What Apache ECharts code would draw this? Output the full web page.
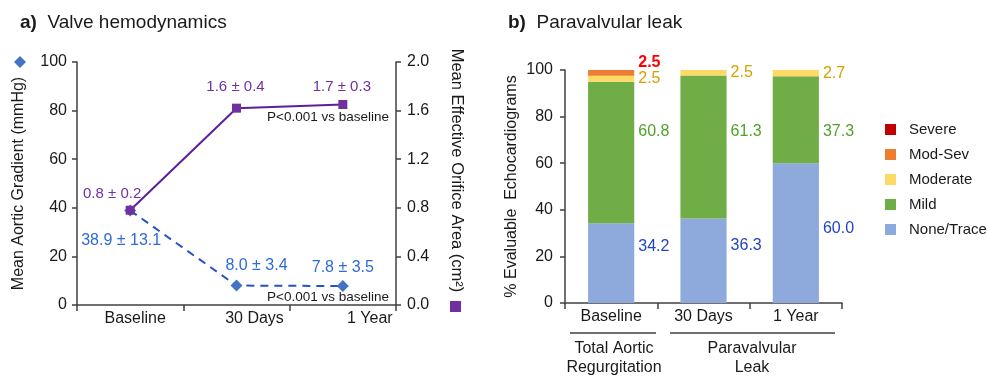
<!DOCTYPE html>
<html>
<head>
<meta charset="utf-8">
<script src="https://cdn.jsdelivr.net/npm/echarts@6/dist/echarts.min.js"></script>
<style>
html,body{margin:0;padding:0;background:#fff;}
#c{width:987px;height:379px;}
</style>
</head>
<body>
<div id="c"></div>
<script>
// ---------- DATA ----------
const categoriesA = ['Baseline', '30 Days', '1 Year'];
const gradientMean = [38.9, 8.0, 7.8];
const gradientSD = [13.1, 3.4, 3.5];
const eoaPlotted = [0.78, 1.62, 1.65];
const eoaMean = [0.8, 1.6, 1.7];
const eoaSD = [0.2, 0.4, 0.3];
const pValueText = 'P<0.001 vs baseline';

const categoriesB = ['Baseline', '30 Days', '1 Year'];
const groupLabels = ['Total Aortic\nRegurgitation', 'Paravalvular\nLeak'];
const leakNames = ['None/Trace', 'Mild', 'Moderate', 'Mod-Sev', 'Severe'];
const noneTrace = [34.2, 36.3, 60.0];
const mild = [60.8, 61.3, 37.3];
const moderate = [2.5, 2.5, 2.7];
const modSev = [2.5, 0, 0];
const severe = [0, 0, 0];

// ---------- STYLE / LAYOUT ----------
const FONT = '"Liberation Sans", Arial, sans-serif';
const AX = '#404040';
const TXT = '#1a1a1a';
const purple = '#7030A0', purpleLine = '#5B1F9E';
const blueMark = '#4472C4', blueLine = '#2452C8', blueTxt = '#2F6BD8';
const leakColors = ['#8EA9DB', '#70AD47', '#FFD966', '#ED7D31', '#C00000'];
const leakLabelColors = ['#2244C8', '#50A22C', '#D6A000', '#FF0000', '#FF0000'];
const leakLabelDy = [[-17, -15, -5], [-21, -15, 12], [0, 0, 0], [-10, 0, 0], [0, 0, 0]];
const eoaLabelOffset = [[-18, -16], [-1, -21], [-1, -18]];
const gradLabelOffset = [[-9, 30], [20, -20], [0, -18]];
const xLabelShift = [10, 36, 54];

const gA = {left: 77, top: 62, width: 319, height: 243};
const gB = {left: 565, top: 70, width: 277, height: 233};

const leakSeriesValues = [noneTrace, mild, moderate, modSev, severe];

function axisCommon() {
  return {
    axisLine: {show: true, lineStyle: {color: AX, width: 1.5}},
    axisTick: {show: true, length: 5, lineStyle: {color: AX, width: 1.5}},
    splitLine: {show: false},
    axisLabel: {color: TXT, fontSize: 16, fontFamily: FONT}
  };
}

const richX = {};
xLabelShift.forEach((p, i) => { richX['c' + i] = {padding: [0, 0, 0, p], fontSize: 16, color: TXT, fontFamily: FONT}; });

const option = {
  animation: false,
  backgroundColor: '#fff',
  textStyle: {fontFamily: FONT},
  title: [
    {text: '{b|a)}  Valve hemodynamics', left: 15, top: 8,
     textStyle: {fontSize: 19, fontWeight: 'normal', color: TXT, fontFamily: FONT,
       rich: {b: {fontSize: 19, fontWeight: 'bold', color: TXT, fontFamily: FONT}}}},
    {text: '{b|b)}  Paravalvular leak', left: 503, top: 8,
     textStyle: {fontSize: 19, fontWeight: 'normal', color: TXT, fontFamily: FONT,
       rich: {b: {fontSize: 19, fontWeight: 'bold', color: TXT, fontFamily: FONT}}}}
  ],
  legend: [
    {data: [{name: 'Gradient', icon: 'diamond'}], left: 14, top: 56, padding: 0,
     itemWidth: 12, itemHeight: 12, formatter: () => '', selectedMode: false},
    {data: [{name: 'EOA', icon: 'rect'}], left: 450, top: 301, padding: 0,
     itemWidth: 11, itemHeight: 11, formatter: () => '', selectedMode: false},
    {data: leakNames.slice().reverse().map(n => ({name: n, icon: 'rect'})),
     orient: 'vertical', left: 885, top: 122, padding: 0, itemWidth: 11, itemHeight: 11, itemGap: 10,
     selectedMode: false,
     textStyle: {fontSize: 15, color: TXT, fontFamily: FONT, padding: [0, 0, 0, 8]}}
  ],
  grid: [
    Object.assign({}, gA),
    Object.assign({}, gB)
  ],
  xAxis: [
    Object.assign(axisCommon(), {
      type: 'category', gridIndex: 0, data: categoriesA,
      axisTick: {show: true, length: 6, lineStyle: {color: AX, width: 1.5}},
      axisLabel: {margin: 6, interval: 0,
        formatter: (v, i) => '{c' + i + '|' + v + '}', rich: richX, color: TXT, fontSize: 16, fontFamily: FONT}
    }),
    Object.assign(axisCommon(), {
      type: 'category', gridIndex: 1, data: categoriesB,
      axisTick: {show: true, length: 6, lineStyle: {color: AX, width: 1.5}},
      axisLabel: {margin: 6, interval: 0, color: TXT, fontSize: 16, fontFamily: FONT}
    })
  ],
  yAxis: [
    Object.assign(axisCommon(), {
      type: 'value', gridIndex: 0, min: 0, max: 100, interval: 20, position: 'left',
      name: 'Mean Aortic Gradient (mmHg)', nameLocation: 'middle', nameGap: 50, nameRotate: 90,
      nameTextStyle: {fontSize: 16, color: TXT, fontFamily: FONT},
      axisLabel: {margin: 10, color: TXT, fontSize: 16, fontFamily: FONT}
    }),
    Object.assign(axisCommon(), {
      type: 'value', gridIndex: 0, min: 0, max: 2, interval: 0.4, position: 'right',
      name: 'Mean Effective Orifice Area (cm²)', nameLocation: 'middle', nameGap: 52, nameRotate: -90,
      nameTextStyle: {fontSize: 16.5, color: TXT, fontFamily: FONT, padding: [0, 26, 0, 0]},
      axisLabel: {margin: 11, color: TXT, fontSize: 16, fontFamily: FONT, formatter: v => v.toFixed(1)}
    }),
    Object.assign(axisCommon(), {
      type: 'value', gridIndex: 1, min: 0, max: 100, interval: 20, position: 'left',
      name: '% Evaluable  Echocardiograms', nameLocation: 'middle', nameGap: 45, nameRotate: 90,
      nameTextStyle: {fontSize: 16, color: TXT, fontFamily: FONT},
      axisLabel: {margin: 12, color: TXT, fontSize: 16, fontFamily: FONT}
    })
  ],
  series: [
    {
      name: 'Gradient', type: 'line', xAxisIndex: 0, yAxisIndex: 0,
      data: gradientMean.map((v, i) => ({value: v, label: {offset: gradLabelOffset[i]}})),
      symbol: 'diamond', symbolSize: 12, itemStyle: {color: blueMark},
      lineStyle: {color: blueLine, width: 2, type: [8, 6]},
      label: {show: true, position: 'inside', fontSize: 16, color: blueTxt, fontFamily: FONT,
        formatter: p => gradientMean[p.dataIndex].toFixed(1) + ' ± ' + gradientSD[p.dataIndex].toFixed(1)},
      z: 2
    },
    {
      name: 'EOA', type: 'line', xAxisIndex: 0, yAxisIndex: 1,
      data: eoaPlotted.map((v, i) => ({value: v, label: {offset: eoaLabelOffset[i]}})),
      symbol: 'rect', symbolSize: 9, itemStyle: {color: purple},
      lineStyle: {color: purpleLine, width: 2},
      label: {show: true, position: 'inside', fontSize: 15, color: purple, fontFamily: FONT,
        formatter: p => eoaMean[p.dataIndex].toFixed(1) + ' ± ' + eoaSD[p.dataIndex].toFixed(1)},
      z: 3
    }
  ].concat(leakSeriesValues.map((vals, k) => ({
    name: leakNames[k], type: 'bar', stack: 'pvl', xAxisIndex: 1, yAxisIndex: 2,
    barWidth: '50%',
    itemStyle: {color: leakColors[k]},
    data: vals.map((v, i) => ({value: v, label: {offset: [0, leakLabelDy[k][i]]}})),
    label: {show: true, position: 'right', distance: 4, fontSize: 16, fontFamily: FONT,
      color: leakLabelColors[k], fontWeight: k === 3 ? 'bold' : 'normal',
      formatter: p => p.value > 0 ? p.value.toFixed(1) : ''}
  }))),
  graphic: [
    {type: 'text', left: 267, top: 110, style: {text: pValueText, font: '13.5px ' + FONT, fill: TXT}},
    {type: 'text', left: 267, top: 290, style: {text: pValueText, font: '13.5px ' + FONT, fill: TXT}},
    {type: 'line', shape: {x1: 570, y1: 333, x2: 656, y2: 333}, style: {stroke: AX, lineWidth: 1.5}},
    {type: 'line', shape: {x1: 670, y1: 333, x2: 835, y2: 333}, style: {stroke: AX, lineWidth: 1.5}},
    {type: 'text', x: 614, y: 339, style: {text: groupLabels[0], font: '16px ' + FONT, fill: TXT, align: 'center', lineHeight: 19}},
    {type: 'text', x: 752, y: 339, style: {text: groupLabels[1], font: '16px ' + FONT, fill: TXT, align: 'center', lineHeight: 19}}
  ]
};

const chart = echarts.init(document.getElementById('c'), null, {renderer: 'canvas'});
chart.setOption(option);
</script>
</body>
</html>
